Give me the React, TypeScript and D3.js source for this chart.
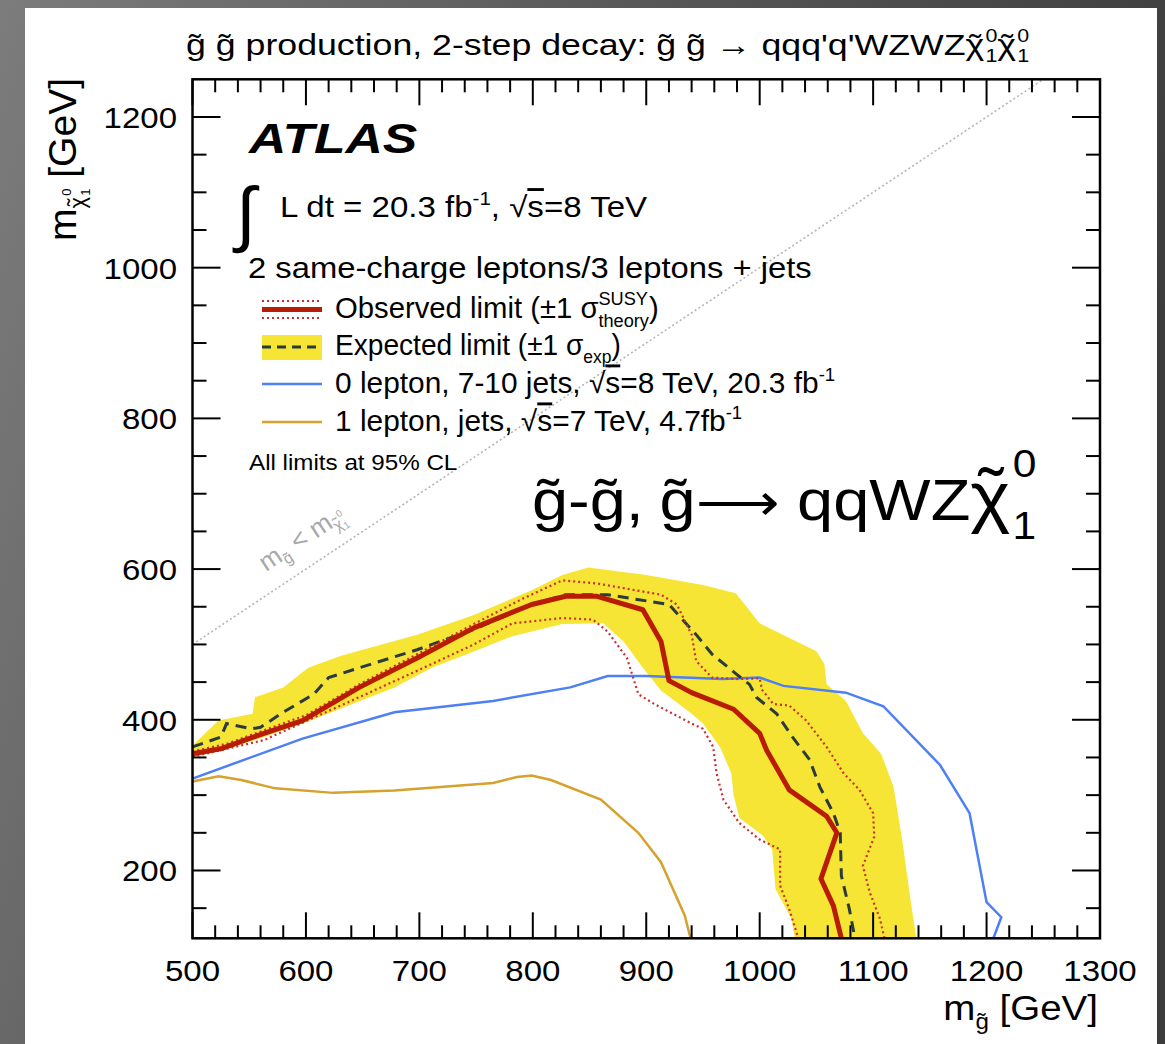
import React from "react";
import * as d3 from "d3";

// ---- Data (m_gluino [GeV], m_neutralino [GeV]) ----
const observed: [number, number][] = [
  [500, 355], [526, 362], [563, 382], [597, 399], [647, 443], [698, 482], [748, 522],
  [799, 553], [829, 564], [856, 564], [897, 546], [913, 504], [920, 452], [940, 436],
  [977, 414], [1000, 382], [1006, 360], [1026, 307], [1059, 272], [1068, 250],
  [1054, 189], [1065, 153], [1072, 110],
];
const observedUp: [number, number][] = [
  [500, 358], [530, 368], [563, 386], [600, 406], [647, 447], [698, 487], [748, 527],
  [790, 560], [826, 585], [856, 581], [913, 566], [927, 553], [940, 513], [944, 478],
  [958, 456], [981, 454], [1000, 455], [1002, 440], [1012, 421], [1026, 419],
  [1041, 399], [1059, 364], [1074, 329], [1088, 307], [1100, 276], [1101, 245],
  [1091, 206], [1097, 171], [1106, 136], [1110, 110],
];
const observedDown: [number, number][] = [
  [500, 351], [563, 373], [647, 430], [698, 465], [748, 500], [782, 528], [826, 535],
  [853, 533], [866, 517], [883, 482], [893, 434], [907, 421], [940, 395], [950, 388],
  [959, 364], [962, 329], [968, 294], [982, 263], [1000, 241], [1018, 228],
  [1018, 180], [1026, 149], [1034, 110],
];
const expected: [number, number][] = [
  [500, 364], [525, 377], [530, 395], [552, 388], [560, 390], [580, 410], [607, 434],
  [620, 456], [647, 469], [698, 493], [748, 520], [799, 553], [829, 566], [866, 566],
  [920, 553], [944, 513], [958, 487], [980, 460], [991, 447], [997, 430], [1015, 408],
  [1029, 377], [1044, 347], [1053, 311], [1065, 276], [1071, 250], [1072, 193],
  [1079, 149], [1084, 110],
];
const expectedBandUpper: [number, number][] = [
  [500, 366], [523, 399], [553, 408], [555, 430], [580, 443], [602, 469], [631, 485],
  [698, 513], [748, 539], [799, 572], [826, 592], [849, 602], [900, 592], [950, 579],
  [979, 568], [1000, 528], [1050, 491], [1057, 474], [1059, 447], [1076, 425],
  [1091, 382], [1107, 355], [1118, 311], [1126, 237], [1132, 171], [1138, 110],
];
const expectedBandLower: [number, number][] = [
  [1031, 110], [1028, 136], [1014, 175], [1011, 228], [1003, 246], [982, 270],
  [977, 300], [975, 329], [965, 364], [950, 395], [940, 408], [913, 439], [897, 469],
  [880, 504], [862, 528], [826, 527], [782, 511], [752, 493], [711, 469], [678, 443],
  [641, 421], [604, 399], [563, 377], [536, 364], [500, 350],
];
const zeroLepton8TeV: [number, number][] = [
  [500, 322], [597, 375], [678, 410], [765, 425], [833, 443], [866, 458], [900, 458],
  [967, 454], [1000, 456], [1021, 445], [1076, 436], [1109, 418], [1159, 340],
  [1185, 276], [1200, 158], [1213, 138], [1206, 110],
];
const oneLepton7TeV: [number, number][] = [
  [500, 318], [523, 325], [543, 320], [573, 309], [624, 303], [678, 306], [765, 316],
  [786, 324], [799, 326], [816, 320], [860, 294], [893, 250], [913, 211], [934, 140],
  [939, 110],
];
const kinematicLimit: [number, number][] = [[500, 500], [1250, 1250]];

const xTicks = [500, 600, 700, 800, 900, 1000, 1100, 1200, 1300];
const yTicks = [200, 400, 600, 800, 1000, 1200];

// ---- Layout ----
const W = 1165;
const H = 1044;
const F = { left: 192.5, right: 1100, top: 79.3, bottom: 938.3 };
const FONT = "'Liberation Sans', Arial, Helvetica, sans-serif";

const x = d3.scaleLinear().domain([500, 1300]).range([F.left, F.right]);
const y = d3.scaleLinear().domain([110, 1250]).range([F.bottom, F.top]);
const line = d3.line<[number, number]>().x((d) => x(d[0])).y((d) => y(d[1]));

const C = {
  yellow: "#f6e534",
  obs: "#b81c04",
  obsBand: "#c8312b",
  exp: "#2b3a3a",
  blue: "#4d7ff5",
  orange: "#d6a12c",
};

// offsets that centre a spacing tilde (0.333em) over a chi (0.5em)
const tildeBack = (fs: number) => -(0.5 * fs + 0.333 * fs) / 2;
const tildeFwd = (fs: number) => (0.5 * fs - 0.333 * fs) / 2;

function T({ x: tx, y: ty, size, anchor = "start", weight = "normal", italic = false, fill = "#000", rotate = 0, sx = 1.1, children }: any) {
  return (
    <text
      transform={`translate(${tx},${ty})${rotate ? ` rotate(${rotate})` : ""} scale(${sx},1)`}
      fontSize={size}
      fontFamily={FONT}
      fontWeight={weight}
      fontStyle={italic ? "italic" : "normal"}
      textAnchor={anchor}
      fill={fill}
    >
      {children}
    </text>
  );
}

export default function App() {
  const band = [...expectedBandUpper, ...expectedBandLower];
  const xMinor = d3.range(500, 1301, 20).filter((v) => v % 100 !== 0);
  const yMinor = d3.range(150, 1250, 50).filter((v) => v % 200 !== 0);

  return (
    <svg width={W} height={H} style={{ position: "absolute", left: 0, top: 0 }}>
      <defs>
        <linearGradient id="bg" x1="0" x2="1" y1="0" y2="0.3">
          <stop offset="0" stopColor="#7c7c7c" />
          <stop offset="0.5" stopColor="#585858" />
          <stop offset="1" stopColor="#3c3c3c" />
        </linearGradient>
        <clipPath id="plot">
          <rect x={F.left} y={F.top} width={F.right - F.left} height={F.bottom - F.top} />
        </clipPath>
      </defs>
      <rect x={0} y={0} width={W} height={H} fill="url(#bg)" />
      <rect x={25} y={8} width={1132} height={H - 8} fill="#fff" />

      <g clipPath="url(#plot)">
        <path d={line(band)! + "Z"} fill={C.yellow} stroke="none" />
        <path d={line(kinematicLimit)!} fill="none" stroke="#b5b5b5" strokeWidth={1.6} strokeDasharray="2,2.5" />
        <path d={line(oneLepton7TeV)!} fill="none" stroke={C.orange} strokeWidth={2.5} />
        <path d={line(zeroLepton8TeV)!} fill="none" stroke={C.blue} strokeWidth={2.5} />
        <path d={line(expected)!} fill="none" stroke={C.exp} strokeWidth={3} strokeDasharray="11,7" />
        <path d={line(observedUp)!} fill="none" stroke={C.obsBand} strokeWidth={2.2} strokeDasharray="2,3" />
        <path d={line(observedDown)!} fill="none" stroke={C.obsBand} strokeWidth={2.2} strokeDasharray="2,3" />
        <path d={line(observed)!} fill="none" stroke={C.obs} strokeWidth={5} strokeLinejoin="round" />
      </g>

      {/* ticks on all four sides */}
      <g stroke="#000" strokeWidth={2}>
        {xTicks.map((v) => (
          <g key={"xt" + v}>
            <line x1={x(v)} x2={x(v)} y1={F.bottom} y2={F.bottom - 26} />
            <line x1={x(v)} x2={x(v)} y1={F.top} y2={F.top + 26} />
          </g>
        ))}
        {xMinor.map((v) => (
          <g key={"xm" + v}>
            <line x1={x(v)} x2={x(v)} y1={F.bottom} y2={F.bottom - 13} />
            <line x1={x(v)} x2={x(v)} y1={F.top} y2={F.top + 13} />
          </g>
        ))}
        {yTicks.map((v) => (
          <g key={"yt" + v}>
            <line x1={F.left} x2={F.left + 28} y1={y(v)} y2={y(v)} />
            <line x1={F.right} x2={F.right - 28} y1={y(v)} y2={y(v)} />
          </g>
        ))}
        {yMinor.map((v) => (
          <g key={"ym" + v}>
            <line x1={F.left} x2={F.left + 14} y1={y(v)} y2={y(v)} />
            <line x1={F.right} x2={F.right - 14} y1={y(v)} y2={y(v)} />
          </g>
        ))}
      </g>
      <rect x={F.left} y={F.top} width={F.right - F.left} height={F.bottom - F.top} fill="none" stroke="#000" strokeWidth={2.5} />

      {/* tick labels */}
      {xTicks.map((v) => (
        <T key={"xl" + v} x={x(v)} y={981} size={30} anchor="middle">{v}</T>
      ))}
      {yTicks.map((v) => (
        <T key={"yl" + v} x={177} y={y(v) + 11} size={30} anchor="end">{v}</T>
      ))}

      {/* axis titles */}
      <T x={1098} y={1020} size={35} anchor="end">
        m<tspan fontSize={22} dy={9}>g̃</tspan><tspan dy={-9}> [GeV]</tspan>
      </T>
      <text transform="translate(76,78) rotate(-90)" fontSize={39} fontFamily={FONT} textAnchor="end">
        m<tspan fontSize={22} dy={9}>χ</tspan>
        <tspan fontSize={22} dx={tildeBack(22)} dy={-2}>˜</tspan>
        <tspan fontSize={13} dx={tildeFwd(22) + 1} dy={7}>1</tspan>
        <tspan fontSize={13} dx={-7.2} dy={-19}>0</tspan><tspan dy={5}> [GeV]</tspan>
      </text>

      {/* title */}
      <T x={186} y={55} size={30} sx={1.19}>
        g̃ g̃ production, 2-step decay: g̃ g̃ → qqq'q'WZWZχ
        <tspan dx={tildeBack(30)}>˜</tspan>
        <tspan fontSize={18} dx={tildeFwd(30) + 1} dy={7}>1</tspan>
        <tspan fontSize={18} dx={-10} dy={-20}>0</tspan>
        <tspan dy={13}>χ</tspan>
        <tspan dx={tildeBack(30)}>˜</tspan>
        <tspan fontSize={18} dx={tildeFwd(30) + 1} dy={7}>1</tspan>
        <tspan fontSize={18} dx={-10} dy={-20}>0</tspan>
      </T>

      {/* ATLAS and luminosity */}
      <T x={249} y={153} size={42} weight="bold" italic sx={1.23}>ATLAS</T>
      <T x={236} y={238} size={72} sx={1}>∫</T>
      <T x={280} y={217} size={29} sx={1.14}>
        L dt = 20.3 fb<tspan fontSize={18} dy={-12}>-1</tspan>
        <tspan dy={12}>, √</tspan><tspan style={{ textDecoration: "overline" }}>s</tspan>=8 TeV
      </T>
      <T x={248} y={278} size={29} sx={1.13}>2 same-charge leptons/3 leptons + jets</T>

      {/* legend */}
      <line x1={262} x2={322} y1={301} y2={301} stroke={C.obsBand} strokeWidth={2.2} strokeDasharray="2,3" />
      <line x1={262} x2={322} y1={318} y2={318} stroke={C.obsBand} strokeWidth={2.2} strokeDasharray="2,3" />
      <line x1={262} x2={322} y1={309.5} y2={309.5} stroke={C.obs} strokeWidth={5} />
      <T x={335} y={318} size={29} sx={1.01}>
        Observed limit (±1 σ<tspan fontSize={18} dy={-13}>SUSY</tspan>
        <tspan fontSize={18} dx={-49} dy={22}>theory</tspan><tspan dy={-9}>)</tspan>
      </T>

      <rect x={262} y={335} width={60} height={25} fill={C.yellow} />
      <line x1={262} x2={322} y1={347} y2={347} stroke={C.exp} strokeWidth={3} strokeDasharray="9,6" />
      <T x={335} y={355} size={29} sx={0.97}>
        Expected limit (±1 σ<tspan fontSize={18} dy={8}>exp</tspan><tspan dy={-8}>)</tspan>
      </T>

      <line x1={262} x2={322} y1={384} y2={384} stroke={C.blue} strokeWidth={2.5} />
      <T x={335} y={393} size={29} sx={1.03}>
        0 lepton, 7-10 jets, √<tspan style={{ textDecoration: "overline" }}>s</tspan>=8 TeV, 20.3 fb
        <tspan fontSize={18} dy={-12}>-1</tspan>
      </T>

      <line x1={262} x2={322} y1={422} y2={422} stroke={C.orange} strokeWidth={2.5} />
      <T x={335} y={431} size={29} sx={1.03}>
        1 lepton, jets, √<tspan style={{ textDecoration: "overline" }}>s</tspan>=7 TeV, 4.7fb
        <tspan fontSize={18} dy={-12}>-1</tspan>
      </T>

      <T x={249} y={470} size={22}>All limits at 95% CL</T>

      {/* process label */}
      <T x={532} y={520} size={58} sx={1.12}>
        g̃-g̃,<tspan dx={14}>g̃</tspan><tspan fontSize={52}>⟶</tspan> qqWZ
        <tspan fontSize={68}>χ</tspan>
        <tspan fontSize={68} dx={tildeBack(68)} dy={-4}>˜</tspan>
        <tspan fontSize={38} dx={tildeFwd(68) + 2} dy={23}>1</tspan>
        <tspan fontSize={38} dx={-21} dy={-62}>0</tspan>
      </T>

      {/* kinematic boundary label */}
      <T x={266} y={572} size={26} fill="#a8a8a8" rotate={-33.6} sx={1}>
        m<tspan fontSize={16} dy={6}>g̃</tspan><tspan dy={-6}> &lt; m</tspan>
        <tspan fontSize={16} dy={6}>χ</tspan>
        <tspan fontSize={16} dx={tildeBack(16)} dy={-2}>˜</tspan>
        <tspan fontSize={10} dx={tildeFwd(16)} dy={5}>1</tspan>
        <tspan fontSize={10} dx={-5.5} dy={-14}>0</tspan>
      </T>
    </svg>
  );
}
